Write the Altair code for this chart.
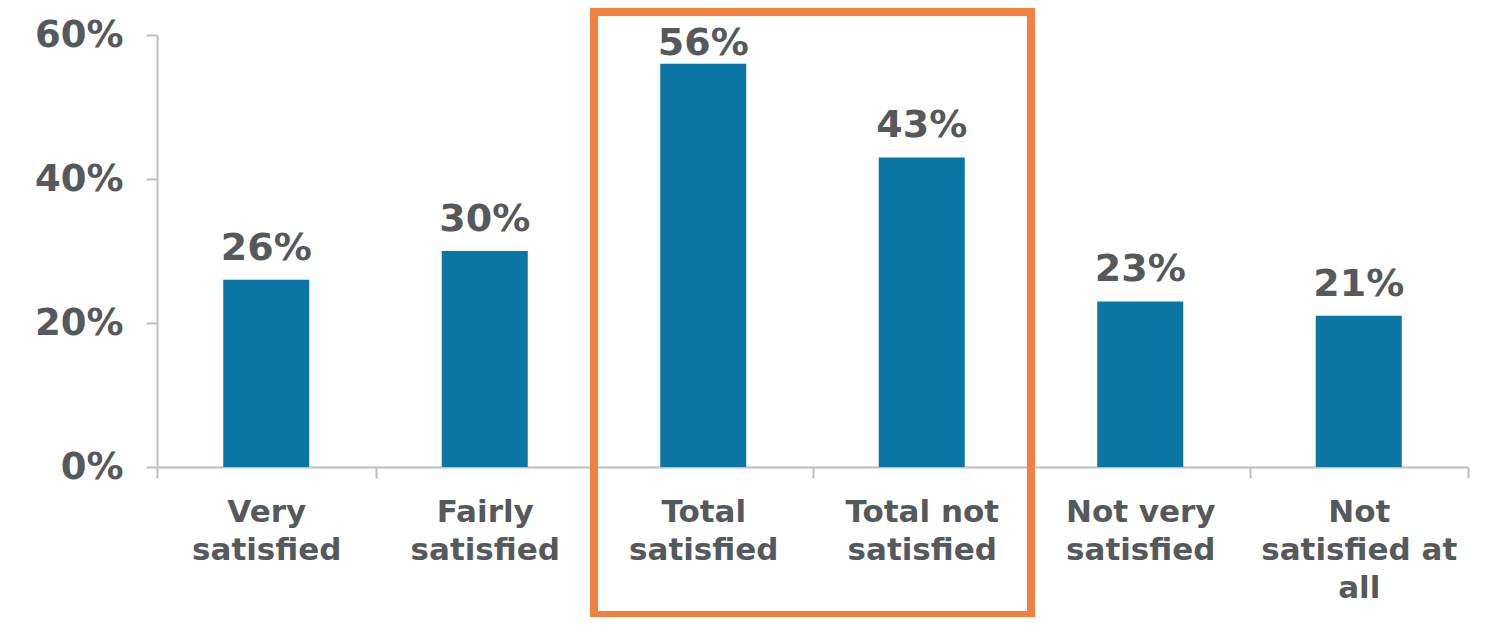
import altair as alt
import pandas as pd

categories = ["Very|satisfied", "Fairly|satisfied", "Total|satisfied",
              "Total not|satisfied", "Not very|satisfied", "Not|satisfied at|all"]
values = [26, 30, 56, 43, 23, 21]
y_ticks = [0, 20, 40, 60]
highlight_start = "Total|satisfied"
highlight_end = "Total not|satisfied"

BAR = "#0B75A4"
TXT = "#56595C"
AX = "#BEBEBE"
ORANGE = "#F28140"
FONT = "DejaVu Sans"

df = pd.DataFrame({"cat": categories, "val": values})
box_df = pd.DataFrame({"x_start": [highlight_start], "x_end": [highlight_end]})

xscale = alt.Scale(domain=categories, paddingInner=0, paddingOuter=0)
yscale = alt.Scale(domain=[0, 60], nice=False)

xaxis = alt.Axis(labelExpr="split(datum.label, '|')", labelAngle=0,
                 labelFont=FONT, labelFontSize=31, labelFontWeight="bold",
                 labelColor=TXT, labelLineHeight=38, labelPadding=19,
                 labelBaseline="top", title=None,
                 domainColor=AX, domainWidth=2, tickColor=AX, tickWidth=2,
                 tickSize=11, tickBand="extent", labelLimit=0)

base = alt.Chart(df)

bars = base.mark_bar(size=86, color=BAR).encode(
    x=alt.X("cat:N", scale=xscale, sort=categories, title=None, axis=xaxis),
    y=alt.Y("val:Q", scale=yscale, title=None,
            axis=alt.Axis(values=y_ticks, labelExpr="datum.value + '%'", grid=False,
                          labelFont=FONT, labelFontSize=37, labelFontWeight="bold",
                          labelColor=TXT, labelPadding=23, domainColor=AX, domainWidth=2,
                          tickColor=AX, tickWidth=2, tickSize=11)),
)

# labels sit above the bar; the tallest one is kept from running off the top
labels = base.transform_calculate(
    lab="datum.val + '%'", ly="min(datum.val, 54.4)"
).mark_text(
    font=FONT, fontSize=38, fontWeight="bold", color=TXT, baseline="alphabetic", dy=-20
).encode(
    x=alt.X("cat:N", scale=xscale, sort=categories, title=None),
    y=alt.Y("ly:Q", scale=yscale, title=None),
    text="lab:N",
)

box = alt.Chart(box_df).mark_rect(filled=False, stroke=ORANGE, strokeWidth=8, clip=False).encode(
    x=alt.X("x_start:N", scale=xscale, sort=categories, bandPosition=0, title=None),
    x2=alt.X2("x_end:N", bandPosition=1),
    y=alt.value(-23),
    y2=alt.value(580),
)

chart = alt.layer(bars, labels, box).properties(
    width=1311, height=432,
    autosize=alt.AutoSizeParams(type="none"),
    padding={"left": 149, "top": 27, "right": 12, "bottom": 150},
).configure_view(stroke=None)

chart.save("out.html", embed_options={"renderer": "svg", "actions": False})
